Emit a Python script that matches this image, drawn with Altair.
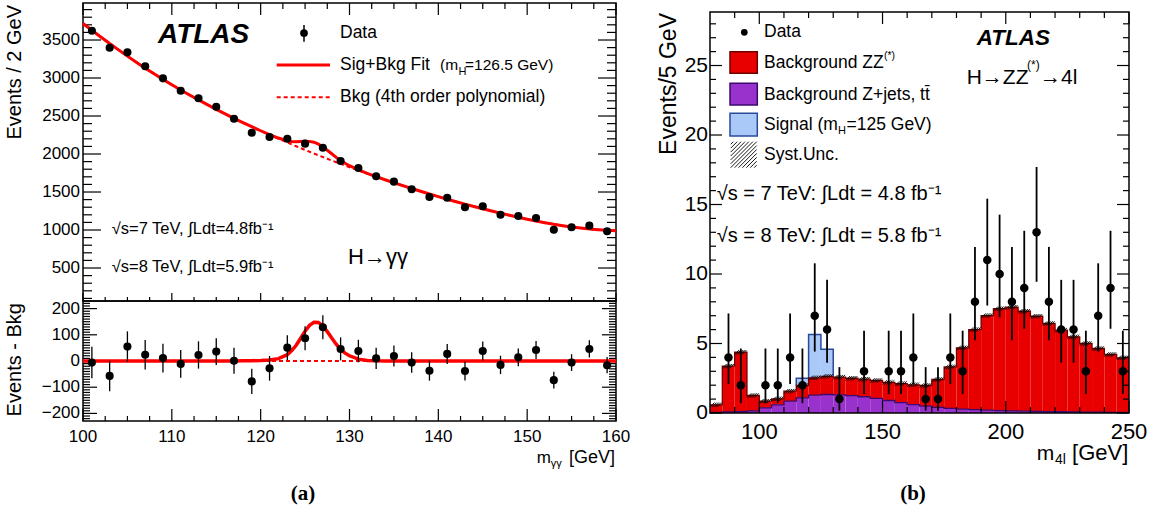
import altair as alt
import pandas as pd

FONT = "Liberation Sans"
SERIF = "Liberation Serif"
RED = "#ff0000"

# ---------------- (a) H -> gamma gamma ----------------
mgg = [101, 103, 105, 107, 109, 111, 113, 115, 117, 119, 121, 123, 125, 127, 129,
       131, 133, 135, 137, 139, 141, 143, 145, 147, 149, 151, 153, 155, 157, 159]
events = [3622, 3399, 3338, 3154, 2996, 2833, 2733, 2622, 2464, 2280, 2224, 2201, 2136, 2083, 1908,
          1816, 1707, 1636, 1536, 1434, 1425, 1299, 1312, 1201, 1184, 1158, 1004, 1036, 1057, 983]
resid = [-6, -57, 55, 24, 11, -11, 23, 36, 1, -78, -28, 51, 87, 129, 46,
         38, 10, 19, -6, -37, 27, -38, 38, -15, 14, 42, -73, -6, 46, -16]
resid_err = [60, 58, 58, 56, 55, 53, 52, 51, 50, 48, 47, 47, 46, 46, 44,
             43, 41, 40, 39, 38, 38, 36, 36, 35, 34, 34, 32, 32, 33, 31]

fit_x = [100, 101, 102, 103, 104, 105, 106, 107, 108, 109, 110, 111, 112, 113, 114, 115, 116, 117,
         118, 119, 120, 121, 122, 123,
         123.5, 124, 124.5, 125, 125.5, 126, 126.5, 127, 127.5, 128, 128.5, 129, 129.5,
         130, 131, 132, 133, 134, 135, 136, 137, 138, 139, 140, 141, 142, 143, 144, 145,
         146, 147, 148, 149, 150, 151, 152, 153, 154, 155, 156, 157, 158, 159, 160]
bkg_val = [3718, 3628, 3540, 3455, 3370, 3288, 3208, 3130, 3055, 2982, 2911, 2843, 2776, 2712, 2649, 2588, 2528, 2470,
           2413, 2358, 2304, 2252, 2201, 2151,
           2126, 2102, 2078, 2054, 2030, 2007, 1983, 1960, 1937, 1915, 1892, 1870, 1848,
           1826, 1784, 1742, 1701, 1661, 1622, 1584, 1546, 1510, 1474, 1439, 1405, 1372, 1340, 1309, 1279,
           1250, 1222, 1195, 1168, 1142, 1118, 1096, 1075, 1057, 1040, 1026, 1013, 1004, 996, 990]
sig_val = [0, 0, 0, 0, 0, 0, 0, 0, 0, 0, 0, 0, 0, 0, 0, 0, 0, 0,
           0.5, 1, 2, 4, 9, 24,
           40, 60, 87, 114, 136, 148, 147, 134, 112, 88, 64, 44, 30,
           20, 7, 2, 0.5, 0, 0, 0, 0, 0, 0, 0, 0, 0, 0, 0, 0,
           0, 0, 0, 0, 0, 0, 0, 0, 0, 0, 0, 0, 0, 0, 0]

# ---------------- (b) H -> ZZ* -> 4l ----------------
bin_lo = [80, 85, 90, 95, 100, 105, 110, 115, 120, 125, 130, 135, 140, 145, 150, 155, 160,
          165, 170, 175, 180, 185, 190, 195, 200, 205, 210, 215, 220, 225, 230, 235, 240, 245]
zjets = [0.05, 0.08, 0.1, 0.15, 0.37, 0.59, 0.85, 1.09, 1.28, 1.33, 1.3, 1.25, 1.17, 1.05, 0.9, 0.75, 0.6,
         0.5, 0.4, 0.33, 0.28, 0.24, 0.2, 0.17, 0.15, 0.13, 0.11, 0.1, 0.09, 0.08, 0.07, 0.06, 0.05, 0.05]
zz = [0.54, 3.29, 4.27, 1.11, 0.48, 0.43, 0.72, 0.89, 1.25, 1.30, 1.28, 1.25, 1.26, 1.29, 1.3, 1.37, 1.43,
      1.48, 2.01, 2.99, 4.41, 5.76, 6.81, 7.33, 7.46, 7.19, 6.85, 6.34, 5.87, 5.40, 4.93, 4.58, 4.16, 3.92]
signal = [0, 0, 0, 0, 0, 0, 0.02, 0.52, 3.12, 1.96, 0.04, 0, 0, 0, 0, 0, 0,
          0, 0, 0, 0, 0, 0, 0, 0, 0, 0, 0, 0, 0, 0, 0, 0, 0]
m4l = [87.5, 92.5, 102.5, 107.5, 112.5, 117.5, 122.5, 127.5, 132.5, 142.5, 152.5, 157.5, 162.5, 167.5, 172.5,
       177.5, 182.5, 187.5, 192.5, 197.5, 202.5, 207.5, 212.5, 217.5, 222.5, 227.5, 232.5, 237.5, 242.5, 247.5]
n4l = [4, 2, 2, 2, 4, 2, 7, 6, 1, 3, 3, 3, 4, 1, 1, 4, 3, 8, 11, 10, 8, 9, 13, 8, 6, 6, 3, 7, 9, 3]
n4l_lo = [2.09, 0.71, 0.71, 0.71, 2.09, 0.71, 4.42, 3.62, 0.17, 1.37, 1.37, 1.37, 2.09, 0.17, 0.17,
          2.09, 1.37, 5.23, 7.73, 6.89, 5.23, 6.06, 9.44, 5.23, 3.62, 3.62, 1.37, 4.42, 6.06, 1.37]
n4l_hi = [7.16, 4.64, 4.64, 4.64, 7.16, 4.64, 10.77, 9.58, 3.30, 5.92, 5.92, 5.92, 7.16, 3.30, 3.30,
          7.16, 5.92, 11.95, 15.42, 14.27, 11.95, 13.11, 17.70, 11.95, 9.58, 9.58, 5.92, 10.77, 13.11, 5.92]

# tick label values
xa_labels = [100, 110, 120, 130, 140, 150, 160]
ya_labels = [500, 1000, 1500, 2000, 2500, 3000, 3500]
yr_labels = [-200, -100, 0, 100, 200]
xb_labels = [100, 150, 200, 250]
yb_labels = [0, 5, 10, 15, 20, 25]

# ---------------- page layout (pixels) ----------------
PAGE_W, PAGE_H = 1157, 515
L0, L1 = 83, 616          # left panel x extent
U0, U1 = 3, 301           # upper (a) y extent
R0, R1 = 301, 421         # residual (a) y extent
B_X0, B_X1 = 710, 1129    # (b) x extent
B_Y0, B_Y1 = 12, 413      # (b) y extent
ONE = pd.DataFrame({"a": [0]})


def S(domain, rng):
    return alt.Scale(domain=domain, range=rng, nice=False, zero=False)


XL = S([100, 160], [L0, L1])
YU = S([66, 3987], [U1, U0])
YR = S([-229, 229], [R1, R0])
XB = S([80, 250], [B_X0, B_X1])
YB = S([0, 28.85], [B_Y1, B_Y0])


def X(f, sc):
    return alt.X(f, type="quantitative", scale=sc, axis=None)


def Y(f, sc):
    return alt.Y(f, type="quantitative", scale=sc, axis=None)


def T(text, x, y, size, align="left", baseline="middle", font=FONT, weight="normal",
      style="normal", angle=0):
    kw = dict(text=text, align=align, baseline=baseline, fontSize=size, font=font,
              fontWeight=weight, fontStyle=style, color="black")
    if angle:
        kw["angle"] = angle
    return alt.Chart(ONE).mark_text(**kw).encode(x=alt.value(x), y=alt.value(y))


def ylabels(vals, sc, xright, size):
    return alt.Chart(pd.DataFrame({"v": vals})).mark_text(
        align="right", baseline="middle", fontSize=size, font=FONT, color="black"
    ).encode(y=Y("v", sc), x=alt.value(xright), text=alt.Text("v:Q"))


def xlabels(vals, sc, ytop, size):
    return alt.Chart(pd.DataFrame({"v": vals})).mark_text(
        align="center", baseline="top", fontSize=size, font=FONT, color="black"
    ).encode(x=X("v", sc), y=alt.value(ytop), text=alt.Text("v:Q"))


def yrules(vals, sc, x0, x1, w=1.2):
    return alt.Chart(pd.DataFrame({"v": vals})).mark_rule(color="black", strokeWidth=w).encode(
        y=Y("v", sc), x=alt.value(x0), x2=alt.value(x1))


def xrules(vals, sc, y0, y1, w=1.2):
    return alt.Chart(pd.DataFrame({"v": vals})).mark_rule(color="black", strokeWidth=w).encode(
        x=X("v", sc), y=alt.value(y0), y2=alt.value(y1))


def hline(x0, x1, y, color, w, dash=None):
    kw = dict(color=color, strokeWidth=w)
    if dash:
        kw["strokeDash"] = dash
    return alt.Chart(ONE).mark_rule(**kw).encode(x=alt.value(x0), x2=alt.value(x1), y=alt.value(y))


def vline(x, y0, y1, color="black", w=1.5):
    return alt.Chart(ONE).mark_rule(color=color, strokeWidth=w).encode(
        x=alt.value(x), y=alt.value(y0), y2=alt.value(y1))


def box(x0, x1, y0, y1, fill="transparent", stroke="black", w=1.5):
    return alt.Chart(ONE).mark_rect(fill=fill, stroke=stroke, strokeWidth=w).encode(
        x=alt.value(x0), x2=alt.value(x1), y=alt.value(y0), y2=alt.value(y1))


# ---------- (a) upper ----------
curve = pd.DataFrame({"m": fit_x, "bkg": bkg_val, "sig": sig_val})
curve["fit"] = curve["bkg"] + curve["sig"]
curve["zero"] = 0.0
up_df = pd.DataFrame({"m": mgg, "n": events})

ua_minor_y = [v for v in range(100, 3987, 100) if v % 500 and v > 66]
xa_minor = [100 + 2.5 * i for i in range(25) if i % 4]

layers = [
    box(L0, L1, U0, U1),
    yrules(ya_labels, YU, L0, L0 + 18), yrules(ya_labels, YU, L1 - 18, L1),
    yrules(ua_minor_y, YU, L0, L0 + 9), yrules(ua_minor_y, YU, L1 - 9, L1),
    xrules(xa_labels, XL, U0, U0 + 12), xrules(xa_minor, XL, U0, U0 + 6),
    xrules(xa_labels, XL, U1 - 8, U1), xrules(xa_minor, XL, U1 - 4, U1),
    alt.Chart(curve).mark_line(color=RED, strokeWidth=2, strokeDash=[4, 3]).encode(
        x=X("m", XL), y=Y("bkg", YU)),
    alt.Chart(curve).mark_line(color=RED, strokeWidth=3).encode(x=X("m", XL), y=Y("fit", YU)),
    alt.Chart(up_df).mark_circle(color="black", size=66, opacity=1).encode(x=X("m", XL), y=Y("n", YU)),
    ylabels(ya_labels, YU, L0 - 3, 17),
    T("ATLAS", 158, 43, 28, baseline="alphabetic", weight="bold", style="italic"),
    vline(304, 25, 41.7),
    alt.Chart(ONE).mark_circle(color="black", size=60, opacity=1).encode(x=alt.value(304), y=alt.value(33)),
    T("Data", 340, 33, 17.5),
    hline(276.7, 330, 65, RED, 3),
    T("Sig+Bkg Fit", 340, 65, 17.5),
    T("(m", 440, 65, 15.5),
    T("H", 458.5, 71.5, 11),
    T("=126.5 GeV)", 465, 65, 15.5),
    hline(276.7, 330, 97.3, RED, 2, dash=[4, 3]),
    T("Bkg (4th order polynomial)", 340, 97, 17.5),
    T("\u221as=7 TeV, \u222bLdt=4.8fb\u207b\u00b9", 111.7, 229, 16.5),
    T("\u221as=8 TeV, \u222bLdt=5.9fb\u207b\u00b9", 111.7, 267, 16.5),
    T("H\u2192\u03b3\u03b3", 348, 257, 22),
    T("Events / 2 GeV", 15, 5, 20, align="right", angle=270),
]

# ---------- (a) residuals ----------
res_df = pd.DataFrame({"m": mgg, "r": resid, "e": resid_err})
res_df["lo"] = res_df["r"] - res_df["e"]
res_df["hi"] = res_df["r"] + res_df["e"]
yr_minor = [v for v in range(-220, 230, 10) if v % 100]

layers += [
    box(L0, L1, R0, R1),
    yrules(yr_labels, YR, L0, L0 + 14), yrules(yr_labels, YR, L1 - 14, L1),
    yrules(yr_minor, YR, L0, L0 + 7), yrules(yr_minor, YR, L1 - 7, L1),
    xrules(xa_labels, XL, R1 - 12, R1), xrules(xa_minor, XL, R1 - 5, R1),
    alt.Chart(curve).mark_line(color=RED, strokeWidth=2, strokeDash=[4, 3]).encode(
        x=X("m", XL), y=Y("zero", YR)),
    alt.Chart(curve).mark_line(color=RED, strokeWidth=3.5).encode(x=X("m", XL), y=Y("sig", YR)),
    alt.Chart(res_df).mark_rule(color="black", strokeWidth=1.3).encode(
        x=X("m", XL), y=Y("lo", YR), y2="hi:Q"),
    alt.Chart(res_df).mark_circle(color="black", size=66, opacity=1).encode(x=X("m", XL), y=Y("r", YR)),
    ylabels(yr_labels, YR, L0 - 3, 17),
    xlabels(xa_labels, XL, R1 + 8, 17),
    T("Events - Bkg", 15, 303, 20, align="right", angle=270),
    T("m", 536.7, 463, 17, baseline="alphabetic"),
    T("\u03b3\u03b3", 550.7, 467, 11, baseline="alphabetic"),
    T("[GeV]", 615, 463, 18, align="right", baseline="alphabetic"),
    T("(a)", 303, 494, 21, align="center", font=SERIF, weight="bold"),
]

# ---------- (b) ----------
hb = pd.DataFrame({"lo": bin_lo, "zj": zjets, "zz": zz, "sig": signal})
hb["hi"] = hb["lo"] + 5
hb["z0"] = 0.0
hb["bk"] = hb["zj"] + hb["zz"]
hb["tot"] = hb["bk"] + hb["sig"]
hb["c"] = hb["lo"] + 2.5
sb = hb[hb["sig"] > 0.1]

step_bk = pd.DataFrame({"x": bin_lo + [250], "y": list(hb["bk"]) + [hb["bk"].iloc[-1]]})
step_zj = pd.DataFrame({"x": bin_lo + [250], "y": list(hb["zj"]) + [hb["zj"].iloc[-1]]})
s_first, s_last = sb.iloc[0], sb.iloc[-1]
step_sig = pd.DataFrame({
    "x": [s_first["lo"]] + list(sb["lo"]) + [s_last["hi"]],
    "y": [s_first["bk"]] + list(sb["tot"]) + [s_last["bk"]],
})
dat = pd.DataFrame({"m": m4l, "n": n4l, "lo": n4l_lo, "hi": n4l_hi})


def hatch_band(h, step):
    parts, x0 = [], -1.0
    while x0 + 2 * h <= 1.0001:
        parts.append(f"M{x0:.3f},{h:.3f}L{x0 + 2 * h:.3f},{-h:.3f}")
        x0 += step
    return "".join(parts)


def hatch_square(step):
    parts, c = [], -1.8
    while c <= 1.8001:
        if c <= 0:
            parts.append(f"M-1,{1 + c:.3f}L{1 + c:.3f},-1")
        else:
            parts.append(f"M{c - 1:.3f},1L1,{c - 1:.3f}")
        c += step
    return "".join(parts)


bin_px = (B_X1 - B_X0) * 5 / 170.0
xb_minor = [v for v in range(90, 250, 10) if v % 50]
yb_minor = [v for v in range(1, 29) if v % 5]

RFILL, RLINE = "#e80000", "#6e0000"
PFILL, PLINE = "#9932cc", "#3c0a6e"
BFILL, BLINE = "#aac8f8", "#2a4a9a"

layers += [
    alt.Chart(hb).mark_rect(color=PFILL).encode(x=X("lo", XB), x2="hi:Q", y=Y("z0", YB), y2="zj:Q"),
    alt.Chart(hb).mark_rect(color=RFILL).encode(x=X("lo", XB), x2="hi:Q", y=Y("zj", YB), y2="bk:Q"),
    alt.Chart(sb).mark_rect(color=BFILL).encode(x=X("lo", XB), x2="hi:Q", y=Y("bk", YB), y2="tot:Q"),
    alt.Chart(step_zj).mark_line(color=PLINE, strokeWidth=1.3, interpolate="step-after").encode(
        x=X("x", XB), y=Y("y", YB)),
    alt.Chart(step_sig).mark_line(color=BLINE, strokeWidth=1.5, interpolate="step-after").encode(
        x=X("x", XB), y=Y("y", YB)),
    alt.Chart(step_bk).mark_line(color=RLINE, strokeWidth=1.3, interpolate="step-after").encode(
        x=X("x", XB), y=Y("y", YB)),
    alt.Chart(hb).mark_point(shape=hatch_band(0.36, 0.3), filled=False, color="black",
                             strokeWidth=0.9, size=bin_px ** 2, opacity=1).encode(
        x=X("c", XB), y=Y("bk", YB)),
    box(B_X0, B_X1, B_Y0, B_Y1),
    yrules(yb_labels, YB, B_X0, B_X0 + 12), yrules(yb_labels, YB, B_X1 - 12, B_X1),
    yrules(yb_minor, YB, B_X0, B_X0 + 6), yrules(yb_minor, YB, B_X1 - 6, B_X1),
    xrules(xb_labels, XB, B_Y0, B_Y0 + 12), xrules(xb_minor, XB, B_Y0, B_Y0 + 6),
    xrules(xb_labels, XB, B_Y1 - 12, B_Y1), xrules(xb_minor, XB, B_Y1 - 6, B_Y1),
    alt.Chart(dat).mark_rule(color="black", strokeWidth=1.8).encode(
        x=X("m", XB), y=Y("lo", YB), y2="hi:Q"),
    alt.Chart(dat).mark_circle(color="black", size=72, opacity=1).encode(x=X("m", XB), y=Y("n", YB)),
    ylabels(yb_labels, YB, B_X0 - 2, 21),
    xlabels(xb_labels, XB, B_Y1 + 9, 22),
    # legend
    alt.Chart(ONE).mark_circle(color="black", size=45, opacity=1).encode(x=alt.value(744.3), y=alt.value(32.3)),
    T("Data", 764, 32.3, 17.5),
    box(730, 757.3, 51.7, 73.3, RFILL, RLINE),
    T("Background ZZ", 764, 63, 17.5),
    T("(*)", 884, 56, 10.5),
    box(730, 757.3, 83.3, 105, PFILL, PLINE),
    T("Background Z+jets, tt\u0304", 764, 94.5, 17.5),
    box(730, 757.3, 113.3, 136, BFILL, BLINE),
    T("Signal (m", 764, 124.7, 17.5),
    T("H", 838, 131, 11),
    T("=125 GeV)", 846.5, 124.7, 17.5),
    alt.Chart(ONE).mark_point(shape=hatch_square(0.3), filled=False, color="black", strokeWidth=0.9,
                              size=26 * 26, opacity=1).encode(x=alt.value(743.7), y=alt.value(154.7)),
    T("Syst.Unc.", 764, 155, 17.5),
    T("\u221as = 7 TeV: \u222bLdt = 4.8 fb\u207b\u00b9", 716.7, 194, 20),
    T("\u221as = 8 TeV: \u222bLdt = 5.8 fb\u207b\u00b9", 716.7, 236, 20),
    T("ATLAS", 976.7, 45, 22.5, baseline="alphabetic", weight="bold", style="italic"),
    T("H\u2192ZZ", 966.7, 77.5, 21),
    T("(*)", 1027, 65, 12),
    T("\u21924l", 1040, 77.5, 21),
    T("Events/5 GeV", 669, 13, 23, align="right", angle=270),
    T("m", 1036.7, 460, 21, baseline="alphabetic"),
    T("4l", 1055, 464, 14, baseline="alphabetic"),
    T("[GeV]", 1128.3, 460, 22, align="right", baseline="alphabetic"),
    T("(b)", 913, 494, 21, align="center", font=SERIF, weight="bold"),
]

chart = alt.layer(*layers).resolve_scale(x="independent", y="independent").properties(
    width=PAGE_W, height=PAGE_H, padding=0,
    autosize=alt.AutoSizeParams(type="none"),
    background="white",
).configure_view(stroke="transparent")

chart.save("out.html", embed_options={"renderer": "svg", "actions": False})
